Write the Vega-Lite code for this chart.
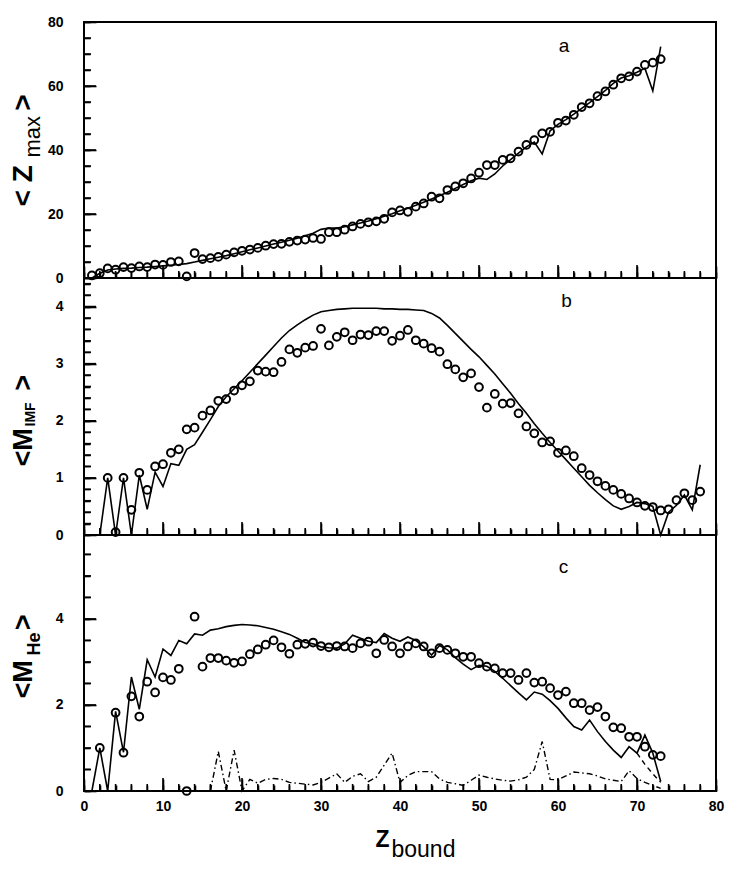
{
  "$schema": "https://vega.github.io/schema/vega-lite/v6.json",
  "autosize": {"type": "pad"},
  "padding": {"left": 8, "top": 14, "right": 5, "bottom": 5},
  "background": "white",
  "spacing": 0,
  "bounds": "flush",
  "config": {
    "view": {"stroke": "black", "strokeWidth": 2},
    "axis": {
      "zindex": 1,
      "ticks": true,
      "domain": false,
      "grid": false,
      "labelFlush": false,
      "tickColor": "#000000",
      "tickWidth": 1.6,
      "labelColor": "black",
      "labelFont": "Liberation Sans",
      "labelFontWeight": "bold",
      "labelFontSize": 14,
      "titleColor": "black",
      "titleFont": "Liberation Sans"
    },
    "tick": {"color": "black", "thickness": 1.6, "opacity": 1},
    "text": {"font": "Liberation Sans", "fontSize": 19, "color": "black"}
  },
  "datasets": {
    "xmaj": [{"t": 0}, {"t": 10}, {"t": 20}, {"t": 30}, {"t": 40}, {"t": 50}, {"t": 60}, {"t": 70}, {"t": 80}],
    "xmin": [
      {"t": 2}, {"t": 4}, {"t": 6}, {"t": 8}, {"t": 12}, {"t": 14}, {"t": 16}, {"t": 18}, {"t": 22}, {"t": 24},
      {"t": 26}, {"t": 28}, {"t": 32}, {"t": 34}, {"t": 36}, {"t": 38}, {"t": 42}, {"t": 44}, {"t": 46}, {"t": 48},
      {"t": 52}, {"t": 54}, {"t": 56}, {"t": 58}, {"t": 62}, {"t": 64}, {"t": 66}, {"t": 68}, {"t": 72}, {"t": 74},
      {"t": 76}, {"t": 78}
    ],
    "a_ymaj": [{"t": 0}, {"t": 20}, {"t": 40}, {"t": 60}, {"t": 80}],
    "a_ymin": [
      {"t": 5}, {"t": 10}, {"t": 15}, {"t": 25}, {"t": 30}, {"t": 35}, {"t": 45}, {"t": 50}, {"t": 55}, {"t": 65},
      {"t": 70}, {"t": 75}
    ],
    "b_ymaj": [{"t": 0}, {"t": 1}, {"t": 2}, {"t": 3}, {"t": 4}],
    "b_ymin": [
      {"t": 0.2}, {"t": 0.4}, {"t": 0.6}, {"t": 0.8}, {"t": 1.2}, {"t": 1.4}, {"t": 1.6}, {"t": 1.8}, {"t": 2.2}, {"t": 2.4},
      {"t": 2.6}, {"t": 2.8}, {"t": 3.2}, {"t": 3.4}, {"t": 3.6}, {"t": 3.8}, {"t": 4.2}, {"t": 4.4}
    ],
    "c_ymaj": [{"t": 0}, {"t": 2}, {"t": 4}],
    "c_ymin": [{"t": 0.5}, {"t": 1}, {"t": 1.5}, {"t": 2.5}, {"t": 3}, {"t": 3.5}, {"t": 4.5}, {"t": 5}, {"t": 5.5}],
    "a_exp": [
      {"z": 1, "v": 0.8}, {"z": 2, "v": 1.5}, {"z": 3, "v": 3}, {"z": 4, "v": 2.6}, {"z": 5, "v": 3.4},
      {"z": 6, "v": 3.1}, {"z": 7, "v": 3.6}, {"z": 8, "v": 3.4}, {"z": 9, "v": 4.2}, {"z": 10, "v": 4.1},
      {"z": 11, "v": 5}, {"z": 12, "v": 5.2}, {"z": 13, "v": 0.5}, {"z": 14, "v": 7.8}, {"z": 15, "v": 5.9},
      {"z": 16, "v": 6.2}, {"z": 17, "v": 6.6}, {"z": 18, "v": 7.3}, {"z": 19, "v": 8}, {"z": 20, "v": 8.5},
      {"z": 21, "v": 8.9}, {"z": 22, "v": 9.4}, {"z": 23, "v": 10.1}, {"z": 24, "v": 10.6}, {"z": 25, "v": 10.7},
      {"z": 26, "v": 11.3}, {"z": 27, "v": 11.7}, {"z": 28, "v": 12}, {"z": 29, "v": 12.5}, {"z": 30, "v": 12.2},
      {"z": 31, "v": 14.3}, {"z": 32, "v": 14.3}, {"z": 33, "v": 15.1}, {"z": 34, "v": 16.1}, {"z": 35, "v": 16.9},
      {"z": 36, "v": 17.4}, {"z": 37, "v": 17.7}, {"z": 38, "v": 18.5}, {"z": 39, "v": 20.5}, {"z": 40, "v": 21.1},
      {"z": 41, "v": 20.7}, {"z": 42, "v": 22.3}, {"z": 43, "v": 23.3}, {"z": 44, "v": 25.4}, {"z": 45, "v": 24.9},
      {"z": 46, "v": 27.5}, {"z": 47, "v": 28.6}, {"z": 48, "v": 29.6}, {"z": 49, "v": 31.1}, {"z": 50, "v": 32.9},
      {"z": 51, "v": 35.3}, {"z": 52, "v": 35.3}, {"z": 53, "v": 36.9}, {"z": 54, "v": 37.4}, {"z": 55, "v": 39.5},
      {"z": 56, "v": 41.6}, {"z": 57, "v": 43.1}, {"z": 58, "v": 45.2}, {"z": 59, "v": 45.7}, {"z": 60, "v": 48.5},
      {"z": 61, "v": 49.2}, {"z": 62, "v": 51}, {"z": 63, "v": 53.4}, {"z": 64, "v": 54.6}, {"z": 65, "v": 56.8},
      {"z": 66, "v": 58.3}, {"z": 67, "v": 60.4}, {"z": 68, "v": 62.4}, {"z": 69, "v": 63}, {"z": 70, "v": 64.5},
      {"z": 71, "v": 66.6}, {"z": 72, "v": 67.3}, {"z": 73, "v": 68.4}
    ],
    "a_mod": [
      {"z": 1, "v": 0}, {"z": 2, "v": 1.5}, {"z": 3, "v": 2.5}, {"z": 4, "v": 2.8}, {"z": 5, "v": 3},
      {"z": 6, "v": 3.1}, {"z": 7, "v": 3.3}, {"z": 8, "v": 3.4}, {"z": 9, "v": 3.6}, {"z": 10, "v": 3.8},
      {"z": 11, "v": 4}, {"z": 12, "v": 4.2}, {"z": 13, "v": 4.5}, {"z": 14, "v": 5}, {"z": 15, "v": 5.5},
      {"z": 16, "v": 6}, {"z": 17, "v": 6.5}, {"z": 18, "v": 7}, {"z": 19, "v": 7.6}, {"z": 20, "v": 8.2},
      {"z": 21, "v": 8.8}, {"z": 22, "v": 9.4}, {"z": 23, "v": 10}, {"z": 24, "v": 10.6}, {"z": 25, "v": 11.2},
      {"z": 26, "v": 11.8}, {"z": 27, "v": 12.4}, {"z": 28, "v": 13.2}, {"z": 29, "v": 14}, {"z": 30, "v": 15.2},
      {"z": 31, "v": 15.6}, {"z": 32, "v": 15.6}, {"z": 33, "v": 16}, {"z": 34, "v": 16.6}, {"z": 35, "v": 17.2},
      {"z": 36, "v": 17.8}, {"z": 37, "v": 18.5}, {"z": 38, "v": 19.3}, {"z": 39, "v": 20.1}, {"z": 40, "v": 21},
      {"z": 41, "v": 21.8}, {"z": 42, "v": 22.7}, {"z": 43, "v": 23.7}, {"z": 44, "v": 24.7}, {"z": 45, "v": 25.7},
      {"z": 46, "v": 26.8}, {"z": 47, "v": 28}, {"z": 48, "v": 29.2}, {"z": 49, "v": 30.4}, {"z": 50, "v": 31.2},
      {"z": 51, "v": 30.8}, {"z": 52, "v": 32.5}, {"z": 53, "v": 35}, {"z": 54, "v": 37}, {"z": 55, "v": 39},
      {"z": 56, "v": 41}, {"z": 57, "v": 42.5}, {"z": 58, "v": 38.8}, {"z": 59, "v": 46}, {"z": 60, "v": 48},
      {"z": 61, "v": 49.5}, {"z": 62, "v": 51.2}, {"z": 63, "v": 53}, {"z": 64, "v": 54.8}, {"z": 65, "v": 56.7},
      {"z": 66, "v": 58.6}, {"z": 67, "v": 60.8}, {"z": 68, "v": 62.5}, {"z": 69, "v": 63.2}, {"z": 70, "v": 64.3},
      {"z": 71, "v": 65.5}, {"z": 72, "v": 58.5}, {"z": 73, "v": 72.3}
    ],
    "b_exp": [
      {"z": 3, "v": 1.0}, {"z": 4, "v": 0.05}, {"z": 5, "v": 1.0}, {"z": 6, "v": 0.44}, {"z": 7, "v": 1.09},
      {"z": 8, "v": 0.79}, {"z": 9, "v": 1.2}, {"z": 10, "v": 1.24}, {"z": 11, "v": 1.44}, {"z": 12, "v": 1.5},
      {"z": 13, "v": 1.85}, {"z": 14, "v": 1.88}, {"z": 15, "v": 2.09}, {"z": 16, "v": 2.18}, {"z": 17, "v": 2.35},
      {"z": 18, "v": 2.38}, {"z": 19, "v": 2.53}, {"z": 20, "v": 2.62}, {"z": 21, "v": 2.69}, {"z": 22, "v": 2.88},
      {"z": 23, "v": 2.86}, {"z": 24, "v": 2.85}, {"z": 25, "v": 3.03}, {"z": 26, "v": 3.25}, {"z": 27, "v": 3.19},
      {"z": 28, "v": 3.28}, {"z": 29, "v": 3.31}, {"z": 30, "v": 3.61}, {"z": 31, "v": 3.32}, {"z": 32, "v": 3.47},
      {"z": 33, "v": 3.55}, {"z": 34, "v": 3.41}, {"z": 35, "v": 3.51}, {"z": 36, "v": 3.5}, {"z": 37, "v": 3.57},
      {"z": 38, "v": 3.57}, {"z": 39, "v": 3.4}, {"z": 40, "v": 3.49}, {"z": 41, "v": 3.59}, {"z": 42, "v": 3.41},
      {"z": 43, "v": 3.35}, {"z": 44, "v": 3.27}, {"z": 45, "v": 3.21}, {"z": 46, "v": 2.99}, {"z": 47, "v": 2.9},
      {"z": 48, "v": 2.76}, {"z": 49, "v": 2.83}, {"z": 50, "v": 2.59}, {"z": 51, "v": 2.23}, {"z": 52, "v": 2.47},
      {"z": 53, "v": 2.3}, {"z": 54, "v": 2.31}, {"z": 55, "v": 2.13}, {"z": 56, "v": 1.9}, {"z": 57, "v": 1.78},
      {"z": 58, "v": 1.62}, {"z": 59, "v": 1.64}, {"z": 60, "v": 1.44}, {"z": 61, "v": 1.48}, {"z": 62, "v": 1.38},
      {"z": 63, "v": 1.17}, {"z": 64, "v": 1.05}, {"z": 65, "v": 0.94}, {"z": 66, "v": 0.86}, {"z": 67, "v": 0.79},
      {"z": 68, "v": 0.72}, {"z": 69, "v": 0.64}, {"z": 70, "v": 0.57}, {"z": 71, "v": 0.51}, {"z": 72, "v": 0.49},
      {"z": 73, "v": 0.43}, {"z": 74, "v": 0.45}, {"z": 75, "v": 0.61}, {"z": 76, "v": 0.73}, {"z": 77, "v": 0.61},
      {"z": 78, "v": 0.76}
    ],
    "b_mod": [
      {"z": 1, "v": 0}, {"z": 2, "v": 0}, {"z": 3, "v": 1.0}, {"z": 4, "v": 0}, {"z": 5, "v": 1.0},
      {"z": 6, "v": 0}, {"z": 7, "v": 1.05}, {"z": 8, "v": 0.45}, {"z": 9, "v": 1.1}, {"z": 10, "v": 0.85},
      {"z": 11, "v": 1.25}, {"z": 12, "v": 1.22}, {"z": 13, "v": 1.5}, {"z": 14, "v": 1.58}, {"z": 15, "v": 1.8},
      {"z": 16, "v": 2.02}, {"z": 17, "v": 2.25}, {"z": 18, "v": 2.42}, {"z": 19, "v": 2.56}, {"z": 20, "v": 2.7},
      {"z": 21, "v": 2.85}, {"z": 22, "v": 3.0}, {"z": 23, "v": 3.15}, {"z": 24, "v": 3.3}, {"z": 25, "v": 3.45},
      {"z": 26, "v": 3.58}, {"z": 27, "v": 3.68}, {"z": 28, "v": 3.77}, {"z": 29, "v": 3.85}, {"z": 30, "v": 3.91},
      {"z": 31, "v": 3.93}, {"z": 32, "v": 3.95}, {"z": 33, "v": 3.96}, {"z": 34, "v": 3.97}, {"z": 35, "v": 3.97},
      {"z": 36, "v": 3.97}, {"z": 37, "v": 3.97}, {"z": 38, "v": 3.96}, {"z": 39, "v": 3.96}, {"z": 40, "v": 3.95},
      {"z": 41, "v": 3.95}, {"z": 42, "v": 3.94}, {"z": 43, "v": 3.93}, {"z": 44, "v": 3.88}, {"z": 45, "v": 3.8},
      {"z": 46, "v": 3.67}, {"z": 47, "v": 3.53}, {"z": 48, "v": 3.39}, {"z": 49, "v": 3.25}, {"z": 50, "v": 3.12},
      {"z": 51, "v": 2.97}, {"z": 52, "v": 2.82}, {"z": 53, "v": 2.65}, {"z": 54, "v": 2.48}, {"z": 55, "v": 2.3},
      {"z": 56, "v": 2.13}, {"z": 57, "v": 1.95}, {"z": 58, "v": 1.78}, {"z": 59, "v": 1.62}, {"z": 60, "v": 1.47},
      {"z": 61, "v": 1.32}, {"z": 62, "v": 1.17}, {"z": 63, "v": 1.02}, {"z": 64, "v": 0.87}, {"z": 65, "v": 0.74},
      {"z": 66, "v": 0.62}, {"z": 67, "v": 0.51}, {"z": 68, "v": 0.45}, {"z": 69, "v": 0.5}, {"z": 70, "v": 0.57},
      {"z": 71, "v": 0.55}, {"z": 72, "v": 0.5}, {"z": 73, "v": 0.0}, {"z": 74, "v": 0.4}, {"z": 75, "v": 0.52},
      {"z": 76, "v": 0.7}, {"z": 77, "v": 0.44}, {"z": 78, "v": 1.23}
    ],
    "c_exp": [
      {"z": 2, "v": 1.0}, {"z": 4, "v": 1.82}, {"z": 5, "v": 0.89}, {"z": 6, "v": 2.2}, {"z": 7, "v": 1.73},
      {"z": 8, "v": 2.54}, {"z": 9, "v": 2.29}, {"z": 10, "v": 2.64}, {"z": 11, "v": 2.58}, {"z": 12, "v": 2.84},
      {"z": 13, "v": 0}, {"z": 14, "v": 4.05}, {"z": 15, "v": 2.89}, {"z": 16, "v": 3.09}, {"z": 17, "v": 3.09},
      {"z": 18, "v": 3.03}, {"z": 19, "v": 2.98}, {"z": 20, "v": 3.01}, {"z": 21, "v": 3.18}, {"z": 22, "v": 3.29},
      {"z": 23, "v": 3.4}, {"z": 24, "v": 3.5}, {"z": 25, "v": 3.34}, {"z": 26, "v": 3.19}, {"z": 27, "v": 3.4},
      {"z": 28, "v": 3.42}, {"z": 29, "v": 3.45}, {"z": 30, "v": 3.37}, {"z": 31, "v": 3.34}, {"z": 32, "v": 3.37},
      {"z": 33, "v": 3.36}, {"z": 34, "v": 3.32}, {"z": 35, "v": 3.43}, {"z": 36, "v": 3.47}, {"z": 37, "v": 3.2},
      {"z": 38, "v": 3.51}, {"z": 39, "v": 3.36}, {"z": 40, "v": 3.2}, {"z": 41, "v": 3.36}, {"z": 42, "v": 3.43},
      {"z": 43, "v": 3.36}, {"z": 44, "v": 3.2}, {"z": 45, "v": 3.32}, {"z": 46, "v": 3.28}, {"z": 47, "v": 3.2},
      {"z": 48, "v": 3.12}, {"z": 49, "v": 3.12}, {"z": 50, "v": 2.97}, {"z": 51, "v": 2.89}, {"z": 52, "v": 2.85},
      {"z": 53, "v": 2.74}, {"z": 54, "v": 2.74}, {"z": 55, "v": 2.58}, {"z": 56, "v": 2.74}, {"z": 57, "v": 2.52},
      {"z": 58, "v": 2.54}, {"z": 59, "v": 2.39}, {"z": 60, "v": 2.23}, {"z": 61, "v": 2.31}, {"z": 62, "v": 2.04},
      {"z": 63, "v": 2.04}, {"z": 64, "v": 1.88}, {"z": 65, "v": 1.95}, {"z": 66, "v": 1.73}, {"z": 67, "v": 1.48},
      {"z": 68, "v": 1.46}, {"z": 69, "v": 1.26}, {"z": 70, "v": 1.26}, {"z": 71, "v": 1.03}, {"z": 72, "v": 0.84},
      {"z": 73, "v": 0.81}
    ],
    "c_mod": [
      {"z": 1, "v": 0}, {"z": 2, "v": 1.0}, {"z": 3, "v": 0}, {"z": 4, "v": 1.85}, {"z": 5, "v": 0.9},
      {"z": 6, "v": 2.65}, {"z": 7, "v": 1.9}, {"z": 8, "v": 3.05}, {"z": 9, "v": 2.65}, {"z": 10, "v": 3.3},
      {"z": 11, "v": 3.15}, {"z": 12, "v": 3.5}, {"z": 13, "v": 3.42}, {"z": 14, "v": 3.65}, {"z": 15, "v": 3.62},
      {"z": 16, "v": 3.74}, {"z": 17, "v": 3.77}, {"z": 18, "v": 3.82}, {"z": 19, "v": 3.85}, {"z": 20, "v": 3.87},
      {"z": 21, "v": 3.86}, {"z": 22, "v": 3.84}, {"z": 23, "v": 3.8}, {"z": 24, "v": 3.76}, {"z": 25, "v": 3.7},
      {"z": 26, "v": 3.64}, {"z": 27, "v": 3.55}, {"z": 28, "v": 3.45}, {"z": 29, "v": 3.42}, {"z": 30, "v": 3.35},
      {"z": 31, "v": 3.33}, {"z": 32, "v": 3.32}, {"z": 33, "v": 3.42}, {"z": 34, "v": 3.62}, {"z": 35, "v": 3.55},
      {"z": 36, "v": 3.48}, {"z": 37, "v": 3.45}, {"z": 38, "v": 3.66}, {"z": 39, "v": 3.55}, {"z": 40, "v": 3.48},
      {"z": 41, "v": 3.58}, {"z": 42, "v": 3.5}, {"z": 43, "v": 3.35}, {"z": 44, "v": 3.16}, {"z": 45, "v": 3.38},
      {"z": 46, "v": 3.28}, {"z": 47, "v": 3.1}, {"z": 48, "v": 2.95}, {"z": 49, "v": 2.82}, {"z": 50, "v": 2.92},
      {"z": 51, "v": 2.9}, {"z": 52, "v": 2.78}, {"z": 53, "v": 2.62}, {"z": 54, "v": 2.45}, {"z": 55, "v": 2.28},
      {"z": 56, "v": 2.12}, {"z": 57, "v": 2.3}, {"z": 58, "v": 2.25}, {"z": 59, "v": 2.1}, {"z": 60, "v": 1.92},
      {"z": 61, "v": 1.7}, {"z": 62, "v": 1.5}, {"z": 63, "v": 1.42}, {"z": 64, "v": 1.65}, {"z": 65, "v": 1.38},
      {"z": 66, "v": 1.15}, {"z": 67, "v": 0.95}, {"z": 68, "v": 0.78}, {"z": 69, "v": 1.03}, {"z": 70, "v": 0.88},
      {"z": 71, "v": 1.3}, {"z": 72, "v": 0.88}, {"z": 73, "v": 0.22}
    ],
    "c_dash": [
      {"z": 70, "v": 0.88}, {"z": 71, "v": 0.62}, {"z": 72, "v": 0.4}, {"z": 73, "v": 0.2}
    ],
    "c_dd": [
      {"z": 16, "v": 0}, {"z": 17, "v": 0.92}, {"z": 18, "v": 0}, {"z": 19, "v": 0.95}, {"z": 20, "v": 0},
      {"z": 21, "v": 0.27}, {"z": 22, "v": 0.18}, {"z": 23, "v": 0.27}, {"z": 24, "v": 0.29}, {"z": 25, "v": 0.27},
      {"z": 26, "v": 0.2}, {"z": 27, "v": 0.18}, {"z": 28, "v": 0.16}, {"z": 29, "v": 0.14}, {"z": 30, "v": 0.2},
      {"z": 31, "v": 0.3}, {"z": 32, "v": 0.4}, {"z": 33, "v": 0.2}, {"z": 34, "v": 0.34}, {"z": 35, "v": 0.4},
      {"z": 36, "v": 0.22}, {"z": 37, "v": 0.32}, {"z": 38, "v": 0.6}, {"z": 39, "v": 0.88}, {"z": 40, "v": 0.2},
      {"z": 41, "v": 0.36}, {"z": 42, "v": 0.45}, {"z": 43, "v": 0.45}, {"z": 44, "v": 0.45}, {"z": 45, "v": 0.28},
      {"z": 46, "v": 0.2}, {"z": 47, "v": 0.17}, {"z": 48, "v": 0.13}, {"z": 49, "v": 0.25}, {"z": 50, "v": 0.37},
      {"z": 51, "v": 0.32}, {"z": 52, "v": 0.28}, {"z": 53, "v": 0.25}, {"z": 54, "v": 0.23}, {"z": 55, "v": 0.26},
      {"z": 56, "v": 0.32}, {"z": 57, "v": 0.5}, {"z": 58, "v": 1.15}, {"z": 59, "v": 0.27}, {"z": 60, "v": 0.26},
      {"z": 61, "v": 0.35}, {"z": 62, "v": 0.44}, {"z": 63, "v": 0.42}, {"z": 64, "v": 0.4}, {"z": 65, "v": 0.35},
      {"z": 66, "v": 0.28}, {"z": 67, "v": 0.25}, {"z": 68, "v": 0.22}, {"z": 69, "v": 0.47}, {"z": 70, "v": 0.29},
      {"z": 71, "v": 0.2}, {"z": 72, "v": 0.13}, {"z": 73, "v": 0.06}
    ]
  },
  "vconcat": [
    {
      "width": 632,
      "height": 256,
      "resolve": {"axis": {"x": "independent", "y": "independent"}},
      "layer": [
        {
          "data": {"name": "a_exp"},
          "mark": {"type": "point", "shape": "circle", "filled": false, "stroke": "black", "strokeWidth": 2, "size": 60, "opacity": 1},
          "encoding": {
            "x": {"field": "z", "type": "quantitative", "scale": {"domain": [0, 80], "nice": false},
              "axis": {"orient": "bottom", "values": [0, 10, 20, 30, 40, 50, 60, 70, 80], "offset": -12, "tickSize": 12, "labels": false, "title": null}},
            "y": {"field": "v", "type": "quantitative", "scale": {"domain": [0, 80], "nice": false},
              "axis": {"orient": "left", "values": [0, 20, 40, 60, 80], "offset": -12, "tickSize": 12, "labelPadding": 21,
                "title": "< Z\u00a0\u00a0\u00a0\u00a0\u00a0\u00a0\u00a0>", "titleFontSize": 28, "titleFontWeight": "bold", "titleAngle": 270,
                "titleAlign": "left", "titleBaseline": "alphabetic", "titleX": -65, "titleY": 184}}
          }
        },
        {
          "data": {"name": "a_mod"},
          "mark": {"type": "line", "color": "black", "strokeWidth": 1.6},
          "encoding": {
            "x": {"field": "z", "type": "quantitative",
              "axis": {"orient": "bottom", "values": [0, 2, 4, 6, 8, 10, 12, 14, 16, 18, 20, 22, 24, 26, 28, 30, 32, 34, 36, 38, 40, 42, 44, 46, 48, 50, 52, 54, 56, 58, 60, 62, 64, 66, 68, 70, 72, 74, 76, 78, 80], "offset": -6, "tickSize": 6, "labels": false, "title": null}},
            "y": {"field": "v", "type": "quantitative",
              "axis": {"orient": "left", "values": [0, 5, 10, 15, 20, 25, 30, 35, 40, 45, 50, 55, 60, 65, 70, 75, 80], "offset": -6, "tickSize": 6, "labels": false,
                "title": "max", "titleFontSize": 22, "titleFontWeight": "normal", "titleAngle": 270,
                "titleAlign": "left", "titleBaseline": "alphabetic", "titleX": -51, "titleY": 135}}
          }
        },
        {
          "data": {"name": "xmaj"},
          "mark": {"type": "tick", "orient": "vertical", "size": 13},
          "encoding": {
            "x": {"field": "t", "type": "quantitative", "axis": null},
            "y": {"datum": 2.03, "type": "quantitative", "axis": null}
          }
        },
        {
          "data": {"name": "xmin"},
          "mark": {"type": "tick", "orient": "vertical", "size": 7},
          "encoding": {
            "x": {"field": "t", "type": "quantitative", "axis": null},
            "y": {"datum": 1.09, "type": "quantitative", "axis": null}
          }
        },
        {
          "data": {"name": "a_ymaj"},
          "mark": {"type": "tick", "orient": "horizontal", "size": 12},
          "encoding": {
            "y": {"field": "t", "type": "quantitative", "axis": null},
            "x": {"datum": 0.76, "type": "quantitative", "axis": null}
          }
        },
        {
          "data": {"name": "a_ymin"},
          "mark": {"type": "tick", "orient": "horizontal", "size": 7},
          "encoding": {
            "y": {"field": "t", "type": "quantitative", "axis": null},
            "x": {"datum": 0.44, "type": "quantitative", "axis": null}
          }
        },
        {
          "data": {"values": [{"label": "a"}]},
          "mark": {"type": "text", "align": "left", "baseline": "alphabetic", "fontSize": 19},
          "encoding": {
            "x": {"datum": 60.1, "type": "quantitative", "axis": null},
            "y": {"datum": 70.6, "type": "quantitative", "axis": null},
            "text": {"field": "label"}
          }
        }
      ]
    },
    {
      "width": 632,
      "height": 257,
      "resolve": {"axis": {"x": "independent", "y": "independent"}},
      "layer": [
        {
          "data": {"name": "b_exp"},
          "mark": {"type": "point", "shape": "circle", "filled": false, "stroke": "black", "strokeWidth": 2, "size": 60, "opacity": 1},
          "encoding": {
            "x": {"field": "z", "type": "quantitative", "scale": {"domain": [0, 80], "nice": false},
              "axis": {"orient": "bottom", "values": [0, 10, 20, 30, 40, 50, 60, 70, 80], "offset": -12, "tickSize": 12, "labels": false, "title": null}},
            "y": {"field": "v", "type": "quantitative", "scale": {"domain": [0, 4.5], "nice": false},
              "axis": {"orient": "left", "values": [0, 1, 2, 3, 4], "offset": -12, "tickSize": 12, "labelPadding": 21,
                "title": "<M\u00a0\u00a0\u00a0\u00a0\u00a0>", "titleFontSize": 27, "titleFontWeight": "bold", "titleAngle": 270,
                "titleAlign": "left", "titleBaseline": "alphabetic", "titleX": -65, "titleY": 188}}
          }
        },
        {
          "data": {"name": "b_mod"},
          "mark": {"type": "line", "color": "black", "strokeWidth": 1.6},
          "encoding": {
            "x": {"field": "z", "type": "quantitative",
              "axis": {"orient": "bottom", "values": [0, 2, 4, 6, 8, 10, 12, 14, 16, 18, 20, 22, 24, 26, 28, 30, 32, 34, 36, 38, 40, 42, 44, 46, 48, 50, 52, 54, 56, 58, 60, 62, 64, 66, 68, 70, 72, 74, 76, 78, 80], "offset": -6, "tickSize": 6, "labels": false, "title": null}},
            "y": {"field": "v", "type": "quantitative",
              "axis": {"orient": "left", "values": [0, 0.2, 0.4, 0.6, 0.8, 1, 1.2, 1.4, 1.6, 1.8, 2, 2.2, 2.4, 2.6, 2.8, 3, 3.2, 3.4, 3.6, 3.8, 4, 4.2, 4.4], "offset": -6, "tickSize": 6, "labels": false,
                "title": "IMF", "titleFontSize": 14, "titleFontWeight": "bold", "titleAngle": 270,
                "titleAlign": "left", "titleBaseline": "alphabetic", "titleX": -56, "titleY": 148}}
          }
        },
        {
          "data": {"name": "xmaj"},
          "mark": {"type": "tick", "orient": "vertical", "size": 13},
          "encoding": {
            "x": {"field": "t", "type": "quantitative", "axis": null},
            "y": {"datum": 0.114, "type": "quantitative", "axis": null}
          }
        },
        {
          "data": {"name": "xmin"},
          "mark": {"type": "tick", "orient": "vertical", "size": 7},
          "encoding": {
            "x": {"field": "t", "type": "quantitative", "axis": null},
            "y": {"datum": 0.061, "type": "quantitative", "axis": null}
          }
        },
        {
          "data": {"name": "b_ymaj"},
          "mark": {"type": "tick", "orient": "horizontal", "size": 12},
          "encoding": {
            "y": {"field": "t", "type": "quantitative", "axis": null},
            "x": {"datum": 0.76, "type": "quantitative", "axis": null}
          }
        },
        {
          "data": {"name": "b_ymin"},
          "mark": {"type": "tick", "orient": "horizontal", "size": 7},
          "encoding": {
            "y": {"field": "t", "type": "quantitative", "axis": null},
            "x": {"datum": 0.44, "type": "quantitative", "axis": null}
          }
        },
        {
          "data": {"values": [{"label": "b"}]},
          "mark": {"type": "text", "align": "left", "baseline": "alphabetic", "fontSize": 19},
          "encoding": {
            "x": {"datum": 60.4, "type": "quantitative", "axis": null},
            "y": {"datum": 4.0, "type": "quantitative", "axis": null},
            "text": {"field": "label"}
          }
        }
      ]
    },
    {
      "width": 632,
      "height": 256,
      "resolve": {"axis": {"x": "independent", "y": "independent"}},
      "layer": [
        {
          "data": {"name": "c_exp"},
          "mark": {"type": "point", "shape": "circle", "filled": false, "stroke": "black", "strokeWidth": 2, "size": 60, "opacity": 1},
          "encoding": {
            "x": {"field": "z", "type": "quantitative", "scale": {"domain": [0, 80], "nice": false},
              "axis": {"orient": "bottom", "values": [0, 10, 20, 30, 40, 50, 60, 70, 80], "offset": -12, "tickSize": 12, "labelPadding": 8,
                "title": "Z", "titleFontSize": 23, "titleFontWeight": "bold", "titleAlign": "left", "titleBaseline": "alphabetic",
                "titleX": 291, "titleY": 67}},
            "y": {"field": "v", "type": "quantitative", "scale": {"domain": [0, 5.95], "nice": false},
              "axis": {"orient": "left", "values": [0, 2, 4], "offset": -12, "tickSize": 12, "labelPadding": 21,
                "title": "<M\u00a0\u00a0\u00a0\u00a0>", "titleFontSize": 27, "titleFontWeight": "bold", "titleAngle": 270,
                "titleAlign": "left", "titleBaseline": "alphabetic", "titleX": -65, "titleY": 163}}
          }
        },
        {
          "data": {"name": "c_mod"},
          "mark": {"type": "line", "color": "black", "strokeWidth": 1.6},
          "encoding": {
            "x": {"field": "z", "type": "quantitative",
              "axis": {"orient": "bottom", "values": [0, 2, 4, 6, 8, 10, 12, 14, 16, 18, 20, 22, 24, 26, 28, 30, 32, 34, 36, 38, 40, 42, 44, 46, 48, 50, 52, 54, 56, 58, 60, 62, 64, 66, 68, 70, 72, 74, 76, 78, 80], "offset": -6, "tickSize": 6, "labels": false,
                "title": "bound", "titleFontSize": 23, "titleFontWeight": "normal", "titleAlign": "left", "titleBaseline": "alphabetic",
                "titleX": 307, "titleY": 71}},
            "y": {"field": "v", "type": "quantitative",
              "axis": {"orient": "left", "values": [0, 0.5, 1, 1.5, 2, 2.5, 3, 3.5, 4, 4.5, 5, 5.5], "offset": -6, "tickSize": 6, "labels": false,
                "title": "He", "titleFontSize": 18, "titleFontWeight": "bold", "titleAngle": 270,
                "titleAlign": "left", "titleBaseline": "alphabetic", "titleX": -50.5, "titleY": 120}}
          }
        },
        {
          "data": {"name": "c_dash"},
          "mark": {"type": "line", "color": "black", "strokeWidth": 1.4, "strokeDash": [5, 4]},
          "encoding": {
            "x": {"field": "z", "type": "quantitative", "axis": null},
            "y": {"field": "v", "type": "quantitative", "axis": null}
          }
        },
        {
          "data": {"name": "c_dd"},
          "mark": {"type": "line", "color": "black", "strokeWidth": 1.4, "strokeDash": [6, 3, 1.5, 3]},
          "encoding": {
            "x": {"field": "z", "type": "quantitative", "axis": null},
            "y": {"field": "v", "type": "quantitative", "axis": null}
          }
        },
        {
          "data": {"name": "xmaj"},
          "mark": {"type": "tick", "orient": "vertical", "size": 13},
          "encoding": {
            "x": {"field": "t", "type": "quantitative", "axis": null},
            "y": {"datum": 0.151, "type": "quantitative", "axis": null}
          }
        },
        {
          "data": {"name": "xmin"},
          "mark": {"type": "tick", "orient": "vertical", "size": 7},
          "encoding": {
            "x": {"field": "t", "type": "quantitative", "axis": null},
            "y": {"datum": 0.081, "type": "quantitative", "axis": null}
          }
        },
        {
          "data": {"name": "c_ymaj"},
          "mark": {"type": "tick", "orient": "horizontal", "size": 12},
          "encoding": {
            "y": {"field": "t", "type": "quantitative", "axis": null},
            "x": {"datum": 0.76, "type": "quantitative", "axis": null}
          }
        },
        {
          "data": {"name": "c_ymin"},
          "mark": {"type": "tick", "orient": "horizontal", "size": 7},
          "encoding": {
            "y": {"field": "t", "type": "quantitative", "axis": null},
            "x": {"datum": 0.44, "type": "quantitative", "axis": null}
          }
        },
        {
          "data": {"values": [{"label": "c"}]},
          "mark": {"type": "text", "align": "left", "baseline": "alphabetic", "fontSize": 19},
          "encoding": {
            "x": {"datum": 60.1, "type": "quantitative", "axis": null},
            "y": {"datum": 5.07, "type": "quantitative", "axis": null},
            "text": {"field": "label"}
          }
        }
      ]
    }
  ]
}
